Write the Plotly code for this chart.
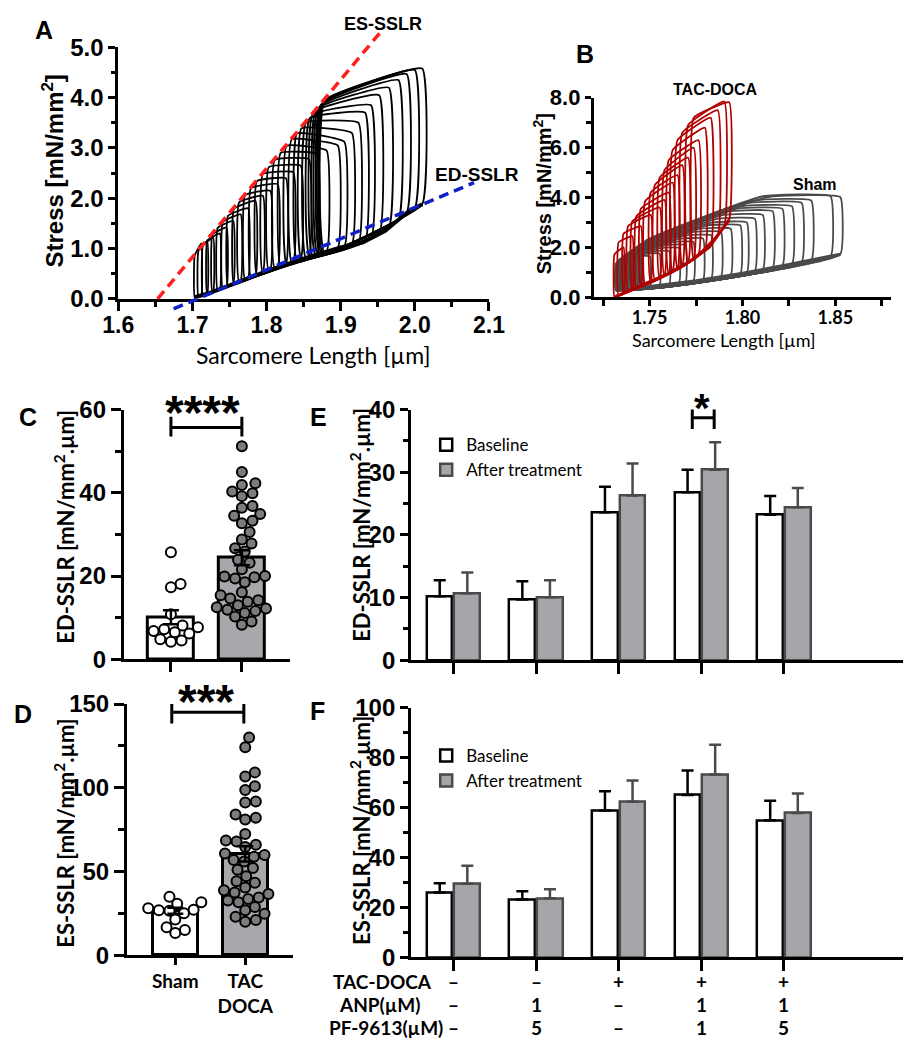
import numpy as np
import plotly.graph_objects as go

W, H = 919, 1050

# ===================== Panel A : stress / sarcomere-length loops =====================
A_es_sl = [1.703, 1.708, 1.714, 1.720, 1.727, 1.734, 1.741, 1.748, 1.756, 1.763,
           1.771, 1.779, 1.787, 1.795, 1.803, 1.811, 1.819, 1.827, 1.834, 1.841,
           1.847, 1.853, 1.858, 1.862, 1.866, 1.869, 1.872, 1.874, 1.876, 1.878]
A_es_stress = [0.86, 0.95, 1.05, 1.16, 1.28, 1.41, 1.53, 1.65, 1.79, 1.92,
               2.06, 2.20, 2.34, 2.48, 2.62, 2.76, 2.90, 3.04, 3.17, 3.29,
               3.39, 3.50, 3.59, 3.66, 3.73, 3.78, 3.83, 3.87, 3.90, 3.94]
A_ed_sl = [1.712, 1.720, 1.728, 1.737, 1.746, 1.755, 1.765, 1.775, 1.785, 1.795,
           1.805, 1.815, 1.826, 1.836, 1.846, 1.857, 1.868, 1.881, 1.896, 1.905,
           1.915, 1.924, 1.933, 1.941, 1.952, 1.965, 1.978, 1.989, 2.000, 2.010]
A_top_stress = [1.10, 1.15, 1.22, 1.30, 1.42, 1.55, 1.68, 1.80, 1.95, 2.05,
                2.15, 2.28, 2.40, 2.52, 2.65, 2.78, 2.88, 2.95, 3.05, 3.12,
                3.30, 3.50, 3.70, 3.85, 4.05, 4.20, 4.35, 4.47, 4.55, 4.58]
A_edcurve_sl = [1.703, 1.72, 1.76, 1.80, 1.85, 1.90, 1.93, 1.96, 1.99, 2.01]
A_edcurve_stress = [0.03, 0.10, 0.32, 0.55, 0.80, 1.02, 1.12, 1.35, 1.72, 1.88]
A_es_sslr_sl = [1.653, 1.954]
A_es_sslr_stress = [0.0, 5.31]
A_ed_sslr_sl = [1.6746, 2.080]
A_ed_sslr_stress = [-0.2, 2.31]

# ===================== Panel B =====================
B_tac_es_sl = [1.7311, 1.7333, 1.7360, 1.7384, 1.7407, 1.7429, 1.7453, 1.7476, 1.7506,
               1.7528, 1.7554, 1.7580, 1.7603, 1.7624, 1.7650, 1.7676, 1.7707, 1.7737]
B_tac_es_stress = [1.72, 2.20, 2.55, 2.85, 3.05, 3.25, 3.55, 3.85, 4.20,
                   4.50, 4.80, 5.10, 5.50, 5.90, 6.30, 6.60, 6.90, 7.20]
B_tac_ed_sl = [1.7360, 1.7407, 1.7453, 1.7506, 1.7554, 1.7580, 1.7603, 1.7624, 1.7650,
               1.7676, 1.7707, 1.7737, 1.7763, 1.7798, 1.7829, 1.7867, 1.7902, 1.7928]
B_tac_top_stress = [2.00, 2.45, 2.85, 3.30, 3.60, 3.90, 4.20, 4.60, 4.90,
                    5.30, 5.60, 6.00, 6.30, 6.80, 7.20, 7.50, 7.85, 7.82]
B_tac_edcurve_sl = [1.7311, 1.745, 1.760, 1.772, 1.782, 1.7928]
B_tac_edcurve_stress = [0.0, 0.45, 0.95, 1.45, 2.00, 3.10]

B_sham_es_sl = [1.7318, 1.7324, 1.7330, 1.7336, 1.7343, 1.7350, 1.7357, 1.7364, 1.7371, 1.7378, 1.7386,
                1.7394, 1.7402, 1.7410, 1.7418, 1.7426, 1.7434, 1.7442, 1.7450, 1.7458, 1.7466, 1.7474]
B_sham_es_stress = [1.35, 1.40, 1.45, 1.50, 1.54, 1.58, 1.62, 1.66, 1.70, 1.74, 1.78,
                    1.82, 1.86, 1.90, 1.94, 1.98, 2.02, 2.06, 2.10, 2.14, 2.18, 2.22]
B_sham_knee_sl = [1.741, 1.745, 1.749, 1.753, 1.757, 1.760, 1.763, 1.767, 1.770, 1.774, 1.777,
                  1.781, 1.784, 1.787, 1.790, 1.794, 1.797, 1.800, 1.803, 1.806, 1.811, 1.814]
B_sham_ed_sl = [1.7450, 1.7502, 1.7554, 1.7606, 1.7658, 1.7693, 1.7736, 1.7788, 1.7832, 1.7884, 1.7936,
                1.7988, 1.8023, 1.8066, 1.8109, 1.8162, 1.8214, 1.8266, 1.8318, 1.8370, 1.8474, 1.8526]
B_sham_top_stress = [1.55, 1.65, 1.75, 1.85, 1.98, 2.10, 2.22, 2.35, 2.48, 2.62, 2.75,
                     2.88, 3.00, 3.15, 3.30, 3.45, 3.55, 3.65, 3.78, 3.88, 4.05, 4.02]
B_sham_edcurve_sl = [1.7318, 1.75, 1.775, 1.80, 1.825, 1.8526]
B_sham_edcurve_stress = [0.28, 0.42, 0.65, 0.95, 1.30, 1.72]

# ===================== Panels C / D =====================
CD_groups = ["Sham", "TAC<br>DOCA"]
C_mean = [10.1, 24.4]
C_sem = [1.7, 1.8]
C_sham = [25.7, 18.1, 17.3, 10.8, 8.1, 7.7, 7.2, 6.8, 6.5, 6.2, 4.8, 4.5, 4.2]
C_tac = [51.2, 45.0, 42.3, 41.9, 40.3, 39.9, 39.2, 36.8, 36.4, 34.9, 34.5, 33.3, 32.7, 30.6,
         28.8, 27.8, 26.7, 25.9, 23.9, 23.2, 21.6, 20.0, 19.7, 19.4, 18.5, 16.1, 15.4, 14.6,
         14.2, 13.8, 13.0, 12.2, 11.9, 11.1, 10.3, 9.1, 8.3, 12.5, 11.6, 19.9]
D_mean = [26.5, 60.5]
D_sem = [1.8, 4.5]
D_sham = [34.9, 31.6, 30.7, 28.0, 27.2, 26.8, 26.5, 25.0, 21.3, 16.7, 15.1, 13.2]
D_tac = [130.0, 124.2, 109.2, 106.7, 100.9, 98.6, 91.8, 91.2, 84.0, 82.1, 81.1, 72.4, 68.5,
         67.9, 66.0, 64.6, 60.7, 59.8, 58.8, 56.8, 55.9, 52.0, 51.0, 47.1, 44.2, 43.3, 40.4,
         38.8, 37.4, 36.5, 34.5, 33.6, 32.6, 31.6, 28.7, 26.8, 24.8, 22.9, 21.0, 20.0]

# ===================== Panels E / F =====================
EF_group_index = [0, 1, 2, 3, 4]
E_base = [10.2, 9.7, 23.6, 26.8, 23.2]
E_base_err = [2.55, 2.9, 4.1, 3.6, 3.0]
E_after = [10.7, 10.05, 26.3, 30.4, 24.4]
E_after_err = [3.3, 2.7, 5.1, 4.4, 3.1]
F_base = [26.0, 23.2, 58.8, 65.0, 54.9]
F_base_err = [3.7, 3.3, 7.7, 9.8, 7.8]
F_after = [29.5, 23.7, 62.3, 73.2, 57.8]
F_after_err = [7.2, 3.6, 8.5, 12.0, 7.8]
row_names = ["TAC-DOCA", "ANP(µM)", "PF-9613(µM)"]
row_tac = ["–", "–", "+", "+", "+"]
row_anp = ["–", "1", "–", "1", "1"]
row_pf = ["–", "5", "–", "1", "5"]

# ===================== helpers =====================
def px_x(p):
    return p / W


def px_y(p):
    return 1 - p / H


def loops_xy(left_sl, left_st, right_sl, right_st, ed_sl, ed_st, knee_sl=None):
    xs, ys = [], []
    for i in range(len(left_sl)):
        bl = float(np.interp(left_sl[i], ed_sl, ed_st))
        br = float(np.interp(right_sl[i], ed_sl, ed_st))
        px = [left_sl[i], left_sl[i]]
        py = [bl, left_st[i]]
        if knee_sl is not None:
            px.append(knee_sl[i])
            py.append(right_st[i])
        px += [right_sl[i], right_sl[i], left_sl[i]]
        py += [right_st[i], br, bl]
        xs += px + [None]
        ys += py + [None]
    return xs, ys


def swarm(values, ppu_y, ppu_x, diam):
    vals = np.asarray(values, float)
    order = np.argsort(vals)
    placed = []
    out = np.zeros(len(vals))
    for i in order:
        y = vals[i] * ppu_y
        chosen = 0
        for k in range(0, 300):
            cands = [0] if k == 0 else [k, -k]
            ok_c = None
            for c in cands:
                if all((c - a) ** 2 + (y - b) ** 2 >= diam ** 2 for a, b in placed):
                    ok_c = c
                    break
            if ok_c is not None:
                chosen = ok_c
                break
        placed.append((chosen, y))
        out[i] = chosen / ppu_x
    return out


def lin_extend(px_lo, px_hi, ax_px, ax_rng):
    k = (ax_rng[1] - ax_rng[0]) / (ax_px[1] - ax_px[0])
    return [ax_rng[0] + (px_lo - ax_px[0]) * k, ax_rng[0] + (px_hi - ax_px[0]) * k]


NUM = dict(family="Liberation Sans", size=24, color="black", weight="bold")
CAL = "Lato"


def axis(dom, rng, anchor, **kw):
    d = dict(domain=dom, range=rng, anchor=anchor, showline=True, linecolor="black",
             linewidth=3, ticks="outside", tickcolor="black", tickwidth=3, ticklen=8,
             showgrid=False, zeroline=False, fixedrange=True, tickfont=NUM)
    d.update(kw)
    return d


def minor(dt, ln, t0=None):
    m = dict(dtick=dt, ticks="outside", ticklen=ln, tickwidth=2.5, tickcolor="black", showgrid=False)
    if t0 is not None:
        m["tick0"] = t0
    return m


fig = go.Figure()
LOOP_LINE = dict(width=1.8, shape="spline", smoothing=0.3)

# ---------- A ----------
ax_, ay_ = loops_xy(A_es_sl, A_es_stress, A_ed_sl, A_top_stress, A_edcurve_sl, A_edcurve_stress)
fig.add_trace(go.Scatter(x=ax_, y=ay_, mode="lines", line=dict(color="black", **LOOP_LINE),
                         xaxis="x", yaxis="y", showlegend=False, hoverinfo="skip"))
fig.add_trace(go.Scatter(x=A_edcurve_sl, y=A_edcurve_stress, mode="lines",
                         line=dict(color="black", width=4), xaxis="x", yaxis="y",
                         showlegend=False, hoverinfo="skip"))
fig.add_trace(go.Scatter(x=A_es_sslr_sl, y=A_es_sslr_stress, mode="lines",
                         line=dict(color="#ff1f1f", width=3.5, dash="10px,6px"),
                         xaxis="x2", yaxis="y2", showlegend=False, hoverinfo="skip"))
fig.add_trace(go.Scatter(x=A_ed_sslr_sl, y=A_ed_sslr_stress, mode="lines",
                         line=dict(color="#1020c8", width=3.5, dash="10px,6px"),
                         xaxis="x2", yaxis="y2", showlegend=False, hoverinfo="skip"))

# ---------- B ----------
gx, gy = loops_xy(B_sham_es_sl, B_sham_es_stress, B_sham_ed_sl, B_sham_top_stress,
                  B_sham_edcurve_sl, B_sham_edcurve_stress, knee_sl=B_sham_knee_sl)
fig.add_trace(go.Scatter(x=gx, y=gy, mode="lines", line=dict(color="#4a4a4a", **LOOP_LINE),
                         xaxis="x3", yaxis="y3", showlegend=False, hoverinfo="skip"))
fig.add_trace(go.Scatter(x=B_sham_edcurve_sl, y=B_sham_edcurve_stress, mode="lines",
                         line=dict(color="#4a4a4a", width=3.5), xaxis="x3", yaxis="y3",
                         showlegend=False, hoverinfo="skip"))
rx, ry = loops_xy(B_tac_es_sl, B_tac_es_stress, B_tac_ed_sl, B_tac_top_stress,
                  B_tac_edcurve_sl, B_tac_edcurve_stress)
fig.add_trace(go.Scatter(x=rx, y=ry, mode="lines", line=dict(color="#b00000", **LOOP_LINE),
                         xaxis="x3", yaxis="y3", showlegend=False, hoverinfo="skip"))
fig.add_trace(go.Scatter(x=B_tac_edcurve_sl, y=B_tac_edcurve_stress, mode="lines",
                         line=dict(color="#b00000", width=3), xaxis="x3", yaxis="y3",
                         showlegend=False, hoverinfo="skip"))

# ---------- C / D ----------
BAR_FILL = ["white", "#a7a7ac"]


def dot_panel(xa, ya, means, sems, sham, tac, ppu_y, ppu_x, barw, capw):
    fig.add_trace(go.Bar(x=[0, 1], y=means, width=barw, marker=dict(color=BAR_FILL,
                         line=dict(color="black", width=3)), xaxis=xa, yaxis=ya,
                         showlegend=False, hoverinfo="skip"))
    so = swarm(sham, ppu_y, ppu_x, 10.5)
    to = swarm(tac, ppu_y, ppu_x, 10.5)
    fig.add_trace(go.Scatter(x=list(0 + so), y=sham, mode="markers",
                             marker=dict(size=10, color="white", line=dict(color="black", width=2)),
                             xaxis=xa, yaxis=ya, showlegend=False, hoverinfo="skip"))
    fig.add_trace(go.Scatter(x=list(1 + to), y=tac, mode="markers",
                             marker=dict(size=10, color="#7c7c7c", line=dict(color="black", width=2)),
                             xaxis=xa, yaxis=ya, showlegend=False, hoverinfo="skip"))
    fig.add_trace(go.Scatter(x=[0, 1], y=means, mode="markers",
                             marker=dict(size=1, color="rgba(0,0,0,0)"),
                             error_y=dict(type="data", array=sems, color="black", thickness=2.5, width=capw),
                             xaxis=xa, yaxis=ya, showlegend=False, hoverinfo="skip"))


dot_panel("x4", "y4", C_mean, C_sem, C_sham, C_tac, (662.3 - 406) / 60, 73.5, 0.646, 8)
dot_panel("x5", "y5", D_mean, D_sem, D_sham, D_tac, (966 - 708.3) / 150, 72.5, 0.648, 8)


def bracket(xa, ya, x0, x1, ymid, ylo, yhi, lw=3):
    fig.add_trace(go.Scatter(x=[x0, x0, None, x0, x1, None, x1, x1],
                             y=[ylo, yhi, None, ymid, ymid, None, ylo, yhi], mode="lines",
                             line=dict(color="black", width=lw), xaxis=xa, yaxis=ya,
                             showlegend=False, hoverinfo="skip", cliponaxis=False))


bracket("x4", "y4", 0, 1, 55.7, 53.5, 58.3)
bracket("x5", "y5", -0.05, 0.98, 145.1, 138.4, 150.0)

# ---------- E / F ----------
OFF = 0.167
BW = 0.31


def pair_panel(xa, ya, base, base_err, after, after_err, leg):
    fig.add_trace(go.Bar(x=[k - OFF for k in EF_group_index], y=base, width=BW, name="Baseline",
                         marker=dict(color="white", line=dict(color="black", width=2.5)),
                         error_y=dict(type="data", array=base_err, arrayminus=[0] * 5, symmetric=False,
                                      color="black", thickness=2.5, width=6),
                         xaxis=xa, yaxis=ya, legend=leg, showlegend=True, hoverinfo="skip"))
    fig.add_trace(go.Bar(x=[k + OFF for k in EF_group_index], y=after, width=BW, name="After treatment",
                         marker=dict(color="#a6a6aa", line=dict(color="#4a4a4a", width=2.5)),
                         error_y=dict(type="data", array=after_err, arrayminus=[0] * 5, symmetric=False,
                                      color="#4a4a4a", thickness=2.5, width=6),
                         xaxis=xa, yaxis=ya, legend=leg, showlegend=True, hoverinfo="skip"))


pair_panel("x6", "y6", E_base, E_base_err, E_after, E_after_err, "legend")
pair_panel("x7", "y7", F_base, F_base_err, F_after, F_after_err, "legend2")
bracket("x6", "y6", 2.89, 3.155, 38.7, 36.9, 40.5)

# ---------- axes ----------
A_XPX, A_XR = (106, 490), (1.6, 2.1)
A_YPX, A_YR = (292.3, 34.3), (0, 5)
EF_XR = [(409.3 - 453.3) / 85.6, (919 - 453.3) / 85.6]

layout_axes = dict(
    xaxis=axis([px_x(106), px_x(490)], list(A_XR), "y", dtick=0.1, tick0=1.6, tickformat=".1f",
               ticklen=9, minor=minor(0.05, 5, 1.6), ticklabelstandoff=-5,
               tickfont=dict(family="Liberation Sans", size=23, color="black", weight="bold")),
    yaxis=axis([px_y(292.3), px_y(34.3)], list(A_YR), "x", dtick=1, tick0=0, tickformat=".1f",
               ticklen=7, minor=minor(0.5, 4, 0)),
    xaxis2=dict(domain=[px_x(56), px_x(560)], range=lin_extend(56, 560, A_XPX, A_XR),
                anchor="y2", visible=False, fixedrange=True),
    yaxis2=dict(domain=[px_y(330), px_y(0)], range=lin_extend(330, 0, A_YPX, A_YR),
                anchor="x2", visible=False, fixedrange=True),
    xaxis3=axis([px_x(598.7), px_x(906.7)], [1.72, 1.88], "y3", dtick=0.05, tick0=1.75,
                tickformat=".2f", ticklen=6, ticklabelstandoff=-4,
                tickfont=dict(family=CAL, size=18, color="black", weight="bold"),
                minor=minor(0.025, 6, 1.725)),
    yaxis3=axis([px_y(290.7), px_y(86)], [0, 8], "x3", dtick=2, tick0=0, tickformat=".1f",
                ticklen=6, tickfont=dict(family="Liberation Sans", size=22, color="black", weight="bold"),
                minor=minor(1, 5, 0)),
    xaxis4=axis([px_x(111.7), px_x(284.3)], [-0.664, 1.684], "y4", tickvals=[0, 1],
                showticklabels=False, ticklen=10),
    yaxis4=axis([px_y(662.3), px_y(406)], [0, 60], "x4", dtick=20, tick0=0, ticklen=10,
                minor=minor(10, 6, 0)),
    xaxis5=axis([px_x(115), px_x(287.3)], [-0.69, 1.687], "y5", tickvals=[0, 1],
                ticktext=CD_groups, ticklen=7,
                tickfont=dict(family=CAL, size=19, color="black", weight="bold")),
    yaxis5=axis([px_y(966), px_y(708.3)], [0, 150], "x5", dtick=50, tick0=0, ticklen=10,
                minor=minor(25, 6, 0)),
    xaxis6=axis([px_x(409.3), 1.0], EF_XR, "y6", tickvals=EF_group_index,
                showticklabels=False, ticklen=11),
    yaxis6=axis([px_y(663.3), px_y(406)], [0, 40], "x6", dtick=10, tick0=0, ticklen=8,
                minor=minor(5, 5, 0)),
    xaxis7=axis([px_x(409.3), 1.0], EF_XR, "y7", tickvals=EF_group_index,
                showticklabels=False, ticklen=11),
    yaxis7=axis([px_y(968.3), px_y(712)], [0, 100], "x7", dtick=20, tick0=0, ticklen=8,
                minor=minor(10, 5, 0)),
)

# ---------- annotations ----------
ann = []


def text(x, y, s, size, family="Liberation Sans", weight="bold", angle=0, xa="center", xref=None):
    ann.append(dict(x=x if xref else px_x(x), y=px_y(y), xref=xref or "paper", yref="paper",
                    text=s, showarrow=False, textangle=angle, xanchor=xa, yanchor="middle",
                    font=dict(family=family, size=size, color="black", weight=weight)))


for lab, (x, y) in {"A": (29, 16), "B": (590, 41), "C": (12.5, 413.5), "E": (313.5, 413.5),
                    "D": (7.5, 718), "F": (312, 715)}.items():
    text(x, y, lab, 25)

text(380, 10, "ES-SSLR", 18)
text(477.5, 165, "ED-SSLR", 19)
text(725, 77.5, "TAC-DOCA", 16)
text(828, 175, "Sham", 16)
text(38, 161, "Stress [mN/mm<sup>2</sup>]", 24, angle=-90)
text(545, 185, "Stress [mN/mm<sup>2</sup>]", 20, angle=-90)
text(308, 350, "Sarcomere Length [µm]", 23, family=CAL, weight="normal")
text(734, 335, "Sarcomere Length [µm]", 18, family=CAL, weight="normal")
text(50, 526, "ED-SSLR [mN/mm<sup>2</sup>.µm]", 22, family=CAL, angle=-90)
text(50, 841, "ES-SSLR [mN/mm<sup>2</sup>.µm]", 22, family=CAL, angle=-90)
text(356.7, 524, "ED-SSLR [mN/mm<sup>2</sup>.µm]", 22, family=CAL, angle=-90)
text(357, 838, "ES-SSLR [mN/mm<sup>2</sup>.µm]", 22, family=CAL, angle=-90)

# significance stars
text(193, 409, "****", 48)
text(197, 706, "***", 48)
text(711, 404, "*", 40)

# treatment table
for name, (x, y) in zip(row_names, [(380, 993.3), (377, 1016.7), (383, 1040)]):
    text(x, y, name, 19, family=CAL)
for row, y in zip([row_tac, row_anp, row_pf], [993.3, 1016.7, 1040]):
    for k, v in zip(EF_group_index, row):
        text(k, y, v, 19, family=CAL, xref="x7")

LEG = dict(xanchor="left", yanchor="top", bgcolor="rgba(0,0,0,0)", borderwidth=0,
           font=dict(family=CAL, size=17, color="black"), itemwidth=30, tracegroupgap=0)

fig.update_layout(
    width=W, height=H, margin=dict(l=0, r=0, t=0, b=0),
    paper_bgcolor="white", plot_bgcolor="rgba(0,0,0,0)",
    barmode="overlay", bargap=0,
    annotations=ann,
    legend=dict(x=px_x(425), y=px_y(424), **LEG),
    legend2=dict(x=px_x(425), y=px_y(743), **LEG),
    **layout_axes,
)

fig.write_html("out.html", config={"displayModeBar": False},
               post_script="document.body.style.margin='0';")
